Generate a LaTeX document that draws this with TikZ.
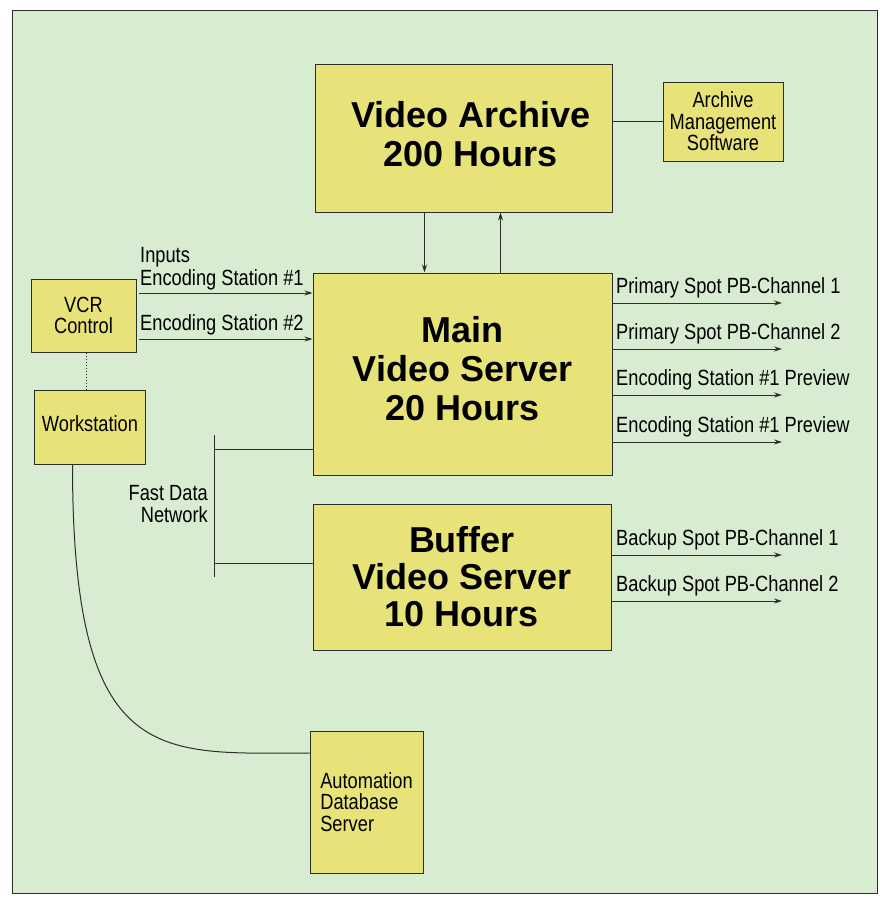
\documentclass[tikz,border=0pt]{standalone}
\usepackage{fontspec}
\usetikzlibrary{arrows.meta}
\setsansfont{Liberation Sans}
\newfontfamily\narrowsf[FakeStretch=0.83]{Liberation Sans}
\definecolor{paper}{RGB}{216,236,210}
\definecolor{boxfill}{RGB}{231,227,120}
\definecolor{ink}{RGB}{45,45,40}
\tikzset{
  box/.style={draw=ink, line width=1pt, fill=boxfill, inner sep=0pt},
  bigtext/.style={font=\sffamily\bfseries\fontsize{36}{39}\selectfont, align=center},
  lbl/.style={font=\narrowsf\fontsize{22}{21.5}\selectfont, inner sep=0pt, text=black},
  link/.style={draw=ink, line width=1pt},
}

\begin{document}
\begin{tikzpicture}[x=1pt, y=-1pt, >={Stealth[length=8pt, width=5pt]}]
  \useasboundingbox (0,0) rectangle (879,900);
  % Frame
  \draw[ink, fill=paper, line width=1pt] (12,10) rectangle (877,893);

  % Storage boxes
  \node[box, minimum width=297, minimum height=148] (archive) at (463.5,138) {};
  \node[bigtext] (archivetxt) at (471,134) {Video Archive\\200 Hours};
  \node[box, minimum width=120, minimum height=79] (ams) at (723,121.5) {};
  \node[lbl, align=center] (amstxt) at (ams) {Archive\\Management\\Software};
  \node[box, minimum width=299, minimum height=202] (main) at (462.5,374) {};
  \node[bigtext] (maintxt) at (462.5,369) {Main\\Video Server\\20 Hours};
  \node[box, minimum width=298, minimum height=146] (buffer) at (462,577) {};
  \node[bigtext, font=\sffamily\bfseries\fontsize{36}{37}\selectfont] (buffertxt) at (462,577) {Buffer\\Video Server\\10 Hours};

  % Control side
  \node[box, minimum width=105, minimum height=73] (vcr) at (83.5,315.5) {};
  \node[lbl, align=center] (vcrtxt) at (vcr) {VCR\\Control};
  \node[box, minimum width=111, minimum height=74] (ws) at (89.5,427) {};
  \node[lbl] (wstxt) at (90,424) {Workstation};
  \node[box, minimum width=113, minimum height=142] (auto) at (366.5,802) {};
  \node[lbl, align=left] (autotxt) at (auto) {Automation\\Database\\Server};

  % Archive links
  \draw[link] (ams.west) -- (ams.west -| archive.east);
  \draw[link, ->] ([xshift=-39pt]archive.south) -- ([xshift=-39pt]archive.south |- main.north);
  \draw[link, ->] ([xshift=38pt]main.north) -- ([xshift=38pt]main.north |- archive.south);

  % Inputs
  \coordinate (in1) at (139,293);
  \coordinate (in2) at (139,339);
  \draw[link, ->] (in1) -- (in1 -| main.west);
  \draw[link, ->] (in2) -- (in2 -| main.west);
  \node[lbl, anchor=base west] (inputs) at (140,262) {Inputs};
  \node[lbl, anchor=base west] (in1txt) at (140,285) {Encoding Station \#1};
  \node[lbl, anchor=base west] (in2txt) at (140,330) {Encoding Station \#2};

  % Outputs
  \foreach \y/\txt [count=\i] in {303/Primary Spot PB-Channel 1, 349/Primary Spot PB-Channel 2,
      395/Encoding Station \#1 Preview, 442/Encoding Station \#1 Preview}{
    \coordinate (out\i) at (782,\y);
    \draw[link, ->] (out\i -| main.east) -- (out\i);
    \node[lbl, anchor=base west] (out\i txt) at (616,\y-10) {\txt};
  }
  \foreach \y/\txt [count=\i] in {555/Backup Spot PB-Channel 1, 601/Backup Spot PB-Channel 2}{
    \coordinate (bk\i) at (782,\y);
    \draw[link, ->] (bk\i -| buffer.east) -- (bk\i);
    \node[lbl, anchor=base west] (bk\i txt) at (616,\y-10) {\txt};
  }

  % Fast data network
  \coordinate (bustop) at (214,435);
  \coordinate (busbot) at (214,577);
  \draw[link] (bustop) -- (busbot);
  \draw[link] (214,449) -- (main.west |- 0,449);
  \draw[link] (214,563) -- (buffer.west |- 0,563);
  \node[lbl, align=right, anchor=east] (fdn) at (208,504) {Fast Data\\Network};

  % Workstation links
  \draw[ink, dotted, line width=1pt] ([xshift=2.5pt]vcr.south) -- ([xshift=2.5pt]vcr.south |- ws.north);
  \draw[link] ([xshift=-17pt]ws.south) .. controls (72.5,770) and (160,753) .. ([yshift=49pt]auto.west);
\end{tikzpicture}
\end{document}
